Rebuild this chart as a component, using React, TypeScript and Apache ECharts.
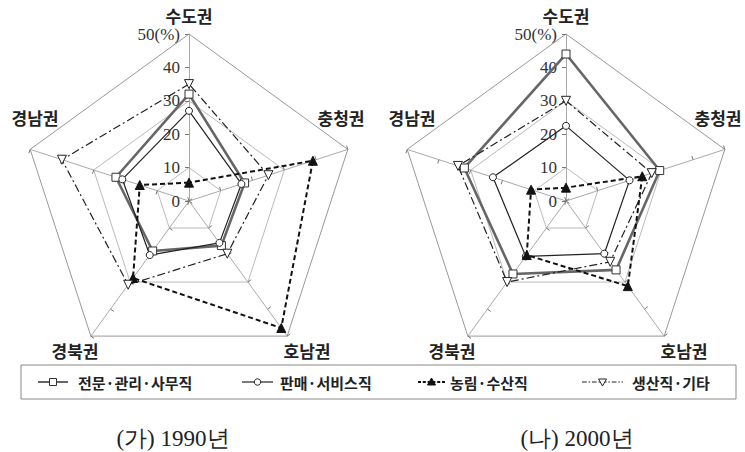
import React, { useEffect, useRef } from "react";
import * as echarts from "echarts";

// categories clockwise from the top
const categories = ["수도권", "충청권", "호남권", "경북권", "경남권"];
const seriesNames = ["전문·관리·사무직", "판매·서비스직", "농림·수산직", "생산직·기타"];
const yearTitles = ["(가) 1990년", "(나) 2000년"];
const axisMax = 50;

// (가) 1990년 values (%), order as categories
const prof1990 = [32, 17.5, 16.5, 18.5, 23];
const sales1990 = [27, 16.5, 15.5, 20, 21];
const agri1990 = [5.5, 39, 47, 28.5, 15.5];
const prod1990 = [35, 25, 19.5, 31, 40];

// (나) 2000년 values (%)
const prof2000 = [44, 29.5, 25.5, 27, 32];
const sales2000 = [22.5, 20, 19.5, 20.5, 23];
const agri2000 = [4, 24, 31.5, 20, 11];
const prod2000 = [30, 27, 22.5, 30, 34];

const datasets = [
  [prof1990, sales1990, agri1990, prod1990],
  [prof2000, sales2000, agri2000, prod2000],
];

// ECharts lays indicators counter-clockwise; reorder to get a clockwise layout
const ccwOrder = [0, 4, 3, 2, 1];
const reorder = (a: any[]) => ccwOrder.map((i) => a[i]);

const CENTERS = [
  [189, 201],
  [566, 201],
];
const RADIUS = 167;
const NAME_OFFSETS = [
  [0, -186],
  [152, -84],
  [118, 149],
  [-114, 149],
  [-154, -84],
];
const TITLE_X = [173, 577];

const styles = [
  {
    symbol: "rect",
    symbolSize: 8,
    itemStyle: { color: "#fff", borderColor: "#333", borderWidth: 1 },
    lineStyle: { color: "#666", width: 2.6, type: "solid" },
  },
  {
    symbol: "circle",
    symbolSize: 7,
    itemStyle: { color: "#fff", borderColor: "#222", borderWidth: 1 },
    lineStyle: { color: "#222", width: 1.2, type: "solid" },
  },
  {
    symbol: "triangle",
    symbolSize: 9,
    itemStyle: { color: "#111", borderColor: "#111", borderWidth: 1 },
    lineStyle: { color: "#111", width: 2, type: [5, 3] },
  },
  {
    symbol: "triangle",
    symbolSize: 9,
    symbolRotate: 180,
    itemStyle: { color: "#fff", borderColor: "#222", borderWidth: 1 },
    lineStyle: { color: "#222", width: 1.2, type: [8, 3, 2, 3] },
  },
];

const SANS = '"Noto Sans CJK KR", "Noto Sans", sans-serif';
const SERIF = '"Liberation Serif", "DejaVu Serif", serif';

export default function App() {
  const ref = useRef<HTMLDivElement>(null);
  useEffect(() => {
    if (!ref.current) return;
    const chart = echarts.init(ref.current, undefined, { renderer: "svg" });

    const radars = CENTERS.map((c) => ({
      center: c,
      radius: RADIUS,
      startAngle: 90,
      splitNumber: 5,
      shape: "polygon",
      indicator: reorder(categories).map((name, i) => ({
        name,
        min: 0,
        max: axisMax,
        ...(i === 0
          ? {
              axisLabel: {
                show: true,
                color: "#333",
                fontSize: 17,
                fontFamily: SERIF,
                margin: 9,
                formatter: (v: number) => (v === axisMax ? v + "(%)" : String(v)),
              },
            }
          : {}),
      })),
      axisName: { show: false },
      axisLabel: { show: false },
      axisTick: { show: true, length: 4, lineStyle: { color: "#777", width: 1 } },
      axisLine: { lineStyle: { color: "#aaa", width: 1 } },
      splitLine: {
        lineStyle: {
          color: [
            "rgba(0,0,0,0)",
            "#bbb",
            "rgba(0,0,0,0)",
            "#bbb",
            "rgba(0,0,0,0)",
            "#999",
          ],
          width: 1,
        },
      },
      splitArea: { show: false },
    }));

    const series = datasets.map((ds, r) => ({
      type: "radar",
      radarIndex: r,
      data: ds.map((vals, k) => ({
        name: seriesNames[k],
        value: reorder(vals),
        ...styles[k],
      })),
    }));

    const graphics: any[] = [];
    CENTERS.forEach((c, r) => {
      categories.forEach((name, i) => {
        graphics.push({
          type: "text",
          style: {
            text: name,
            x: c[0] + NAME_OFFSETS[i][0],
            y: c[1] + NAME_OFFSETS[i][1],
            align: "center",
            verticalAlign: "middle",
            font: `bold 17px ${SANS}`,
            fill: "#222",
          },
        });
      });
      graphics.push({
        type: "text",
        style: {
          text: yearTitles[r],
          x: TITLE_X[r],
          y: 438,
          align: "center",
          verticalAlign: "middle",
          font: `23px ${SERIF}`,
          fill: "#222",
        },
      });
    });

    // legend box
    graphics.push({
      type: "rect",
      shape: { x: 21, y: 365, width: 715, height: 34 },
      style: { fill: "none", stroke: "#888", lineWidth: 1 },
    });
    const LY = 382;
    const legendItems = [
      { x1: 38, x2: 68, tx: 78 },
      { x1: 242, x2: 273, tx: 280 },
      { x1: 418, x2: 445, tx: 450 },
      { x1: 582, x2: 623, tx: 632 },
    ];
    legendItems.forEach((it, k) => {
      const st = styles[k];
      const dash = Array.isArray(st.lineStyle.type) ? st.lineStyle.type : null;
      graphics.push({
        type: "line",
        shape: { x1: it.x1, y1: LY, x2: it.x2, y2: LY },
        style: {
          stroke: st.lineStyle.color,
          lineWidth: Math.min(st.lineStyle.width, 2),
          lineDash: dash ? dash.map((d: number) => Math.max(1.5, d * 0.6)) : null,
        },
      });
      const mx = (it.x1 + it.x2) / 2;
      const ms = { fill: st.itemStyle.color, stroke: st.itemStyle.borderColor, lineWidth: 1 };
      if (k === 0) {
        graphics.push({ type: "rect", shape: { x: mx - 3.5, y: LY - 3.5, width: 7, height: 7 }, style: ms });
      } else if (k === 1) {
        graphics.push({ type: "circle", shape: { cx: mx, cy: LY, r: 3.2 }, style: ms });
      } else if (k === 2) {
        graphics.push({ type: "polygon", shape: { points: [[mx - 4, LY + 3], [mx + 4, LY + 3], [mx, LY - 4]] }, style: ms });
      } else {
        graphics.push({ type: "polygon", shape: { points: [[mx - 4, LY - 3], [mx + 4, LY - 3], [mx, LY + 4]] }, style: ms });
      }
      graphics.push({
        type: "text",
        style: {
          text: seriesNames[k],
          x: it.tx,
          y: LY,
          align: "left",
          verticalAlign: "middle",
          font: `bold 15px ${SANS}`,
          fill: "#222",
        },
      });
    });

    chart.setOption({
      animation: false,
      backgroundColor: "#fff",
      radar: radars,
      series,
      graphic: { elements: graphics },
    });
    return () => chart.dispose();
  }, []);
  return (
    <div
      ref={ref}
      style={{ position: "fixed", left: 0, top: 0, width: 745, height: 452 }}
    />
  );
}
